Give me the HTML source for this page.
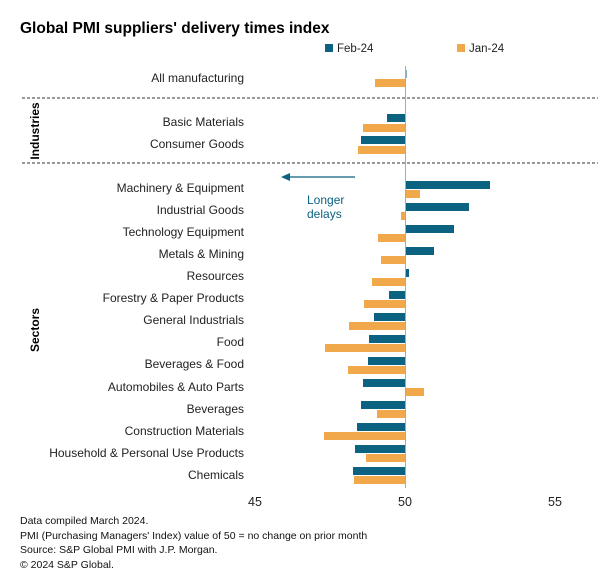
<!DOCTYPE html>
<html><head><meta charset="utf-8"><style>
body{margin:0;background:#fff;}
svg{display:block;font-family:"Liberation Sans",Arial,sans-serif;}
</style></head><body>
<svg width="605" height="587" viewBox="0 0 605 587" xmlns="http://www.w3.org/2000/svg">
<text x="20" y="33" font-size="15.5" font-weight="bold" fill="#000">Global PMI suppliers' delivery times index</text>
<rect x="325" y="44" width="8" height="8" fill="#0b6281"/>
<text x="337" y="52" font-size="11.5" fill="#222">Feb-24</text>
<rect x="457" y="44" width="8" height="8" fill="#f0a84a"/>
<text x="469" y="52" font-size="11.5" fill="#222">Jan-24</text>
<line x1="22" y1="98" x2="598" y2="98" stroke="#333" stroke-dasharray="3,2" stroke-width="1"/>
<line x1="22" y1="163" x2="598" y2="163" stroke="#333" stroke-dasharray="3,2" stroke-width="1"/>
<text transform="translate(39,131) rotate(-90)" text-anchor="middle" font-size="12" font-weight="bold">Industries</text>
<text transform="translate(39,330) rotate(-90)" text-anchor="middle" font-size="12" font-weight="bold">Sectors</text>
<g font-size="12" fill="#222" text-anchor="end">
<text x="244" y="82">All manufacturing</text>
<text x="244" y="126">Basic Materials</text>
<text x="244" y="148">Consumer Goods</text>
<text x="244" y="192">Machinery &amp; Equipment</text>
<text x="244" y="214">Industrial Goods</text>
<text x="244" y="236">Technology Equipment</text>
<text x="244" y="258">Metals &amp; Mining</text>
<text x="244" y="280">Resources</text>
<text x="244" y="302">Forestry &amp; Paper Products</text>
<text x="244" y="324">General Industrials</text>
<text x="244" y="346">Food</text>
<text x="244" y="368">Beverages &amp; Food</text>
<text x="244" y="391">Automobiles &amp; Auto Parts</text>
<text x="244" y="413">Beverages</text>
<text x="244" y="435">Construction Materials</text>
<text x="244" y="457">Household &amp; Personal Use Products</text>
<text x="244" y="479">Chemicals</text>
</g>
<g fill="#0b6281">
<rect x="405" y="70" width="1.5" height="8"/>
<rect x="387" y="114" width="18" height="8"/>
<rect x="361" y="136" width="44" height="8"/>
<rect x="405" y="181" width="85" height="8"/>
<rect x="405" y="203" width="64" height="8"/>
<rect x="405" y="225" width="49" height="8"/>
<rect x="405" y="247" width="29" height="8"/>
<rect x="405" y="269" width="4" height="8"/>
<rect x="389" y="291" width="16" height="8"/>
<rect x="374" y="313" width="31" height="8"/>
<rect x="369" y="335" width="36" height="8"/>
<rect x="368" y="357" width="37" height="8"/>
<rect x="363" y="379" width="42" height="8"/>
<rect x="361" y="401" width="44" height="8"/>
<rect x="357" y="423" width="48" height="8"/>
<rect x="355" y="445" width="50" height="8"/>
<rect x="353" y="467" width="52" height="8"/>
</g>
<g fill="#f0a84a">
<rect x="375" y="79" width="30" height="8"/>
<rect x="363" y="124" width="42" height="8"/>
<rect x="358" y="146" width="47" height="8"/>
<rect x="405" y="190" width="15" height="8"/>
<rect x="401" y="212" width="4" height="8"/>
<rect x="378" y="234" width="27" height="8"/>
<rect x="381" y="256" width="24" height="8"/>
<rect x="372" y="278" width="33" height="8"/>
<rect x="364" y="300" width="41" height="8"/>
<rect x="349" y="322" width="56" height="8"/>
<rect x="325" y="344" width="80" height="8"/>
<rect x="348" y="366" width="57" height="8"/>
<rect x="405" y="388" width="19" height="8"/>
<rect x="377" y="410" width="28" height="8"/>
<rect x="324" y="432" width="81" height="8"/>
<rect x="366" y="454" width="39" height="8"/>
<rect x="354" y="476" width="51" height="8"/>
</g>
<line x1="405.5" y1="66" x2="405.5" y2="488" stroke="#aaa" stroke-width="1"/>
<line x1="355" y1="177" x2="288" y2="177" stroke="#0b6281" stroke-width="1.3"/>
<polygon points="281,177 290,173 290,181" fill="#0b6281"/>
<text x="307" y="204" font-size="12" fill="#0b6281">Longer</text>
<text x="307" y="218" font-size="12" fill="#0b6281">delays</text>
<g font-size="12.5" fill="#222" text-anchor="middle">
<text x="255" y="506">45</text>
<text x="405" y="506">50</text>
<text x="555" y="506">55</text>
</g>
<g font-size="10.5" fill="#111">
<text x="20" y="524">Data compiled March 2024.</text>
<text x="20" y="539">PMI (Purchasing Managers' Index) value of 50 = no change on prior month</text>
<text x="20" y="553">Source: S&amp;P Global PMI with J.P. Morgan.</text>
<text x="20" y="568">© 2024 S&amp;P Global.</text>
</g>
</svg>
</body></html>
